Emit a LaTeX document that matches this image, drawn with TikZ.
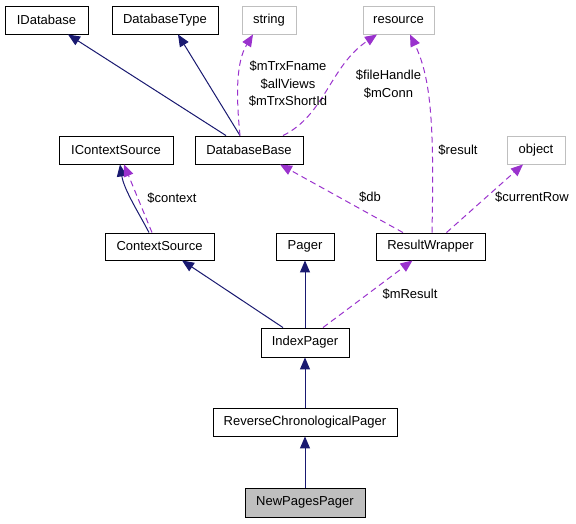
\documentclass[tikz,border=0pt]{standalone}
\usepackage{fontspec}
\setmainfont{Liberation Sans}
\usetikzlibrary{arrows.meta,calc}
\definecolor{navy}{HTML}{191970}
\definecolor{orchid}{HTML}{9A32CD}
\definecolor{lgray}{HTML}{BFBFBF}
\tikzset{
  cls/.style={draw=black, line width=0.9pt, rectangle, inner sep=0pt, minimum height=28pt, font=\fontsize{13}{15}\selectfont},
  ext/.style={cls, draw=lgray},
  inh/.style={draw=navy, line width=1pt, -{Triangle[length=12pt,width=10pt]}},
  use/.style={draw=orchid, line width=1pt, dash pattern=on 6pt off 4pt, -{Triangle[length=12pt,width=10pt]}},
  lbl/.style={font=\fontsize{13}{17.5}\selectfont, align=center, inner sep=0pt}
}
\begin{document}
\begin{tikzpicture}[x=1pt,y=-1pt]
\useasboundingbox (0,0) rectangle (576,523);
% nodes
\node[cls, minimum width=83pt] (IDatabase) at (46.5,20) {IDatabase};
\node[cls, minimum width=106pt] (DatabaseType) at (165,20) {DatabaseType};
\node[ext, minimum width=54pt] (string) at (269,20) {string};
\node[ext, minimum width=71pt] (resource) at (398.5,20) {resource};
\node[cls, minimum width=114pt] (IContextSource) at (116,150) {IContextSource};
\node[cls, minimum width=108pt] (DatabaseBase) at (249,150) {DatabaseBase};
\node[ext, minimum width=58pt] (object) at (536,150) {object};
\node[cls, minimum width=109pt, minimum height=27pt] (ContextSource) at (159.5,246.5) {ContextSource};
\node[cls, minimum width=58pt, minimum height=27pt] (Pager) at (305,246.5) {Pager};
\node[cls, minimum width=109pt, minimum height=27pt] (ResultWrapper) at (430.5,246.5) {ResultWrapper};
\node[cls, minimum width=88pt, minimum height=29pt] (IndexPager) at (305,342.5) {IndexPager};
\node[cls, minimum width=184pt] (RCP) at (305,422) {ReverseChronologicalPager};
\node[cls, fill=lgray, minimum width=120pt, minimum height=29pt] (NPP) at (305,502.5) {NewPagesPager};

% inheritance edges
\draw[inh] ([xshift=-23pt]DatabaseBase.north) -- ([xshift=21.5pt]IDatabase.south);
\draw[inh] ([xshift=-9pt]DatabaseBase.north) -- ([xshift=13pt]DatabaseType.south);
\draw[inh] ([xshift=-10.5pt]ContextSource.north) .. controls (140,215) and (124,190) .. ([xshift=4pt]IContextSource.south);
\draw[inh] ([xshift=-22pt]IndexPager.north) -- ([xshift=22.5pt]ContextSource.south);
\draw[inh] (IndexPager.north) -- (Pager.south);
\draw[inh] (RCP.north) -- (IndexPager.south);
\draw[inh] (NPP.north) -- (RCP.south);

% usage edges
\draw[use] ([xshift=-7.5pt]ContextSource.north) -- ([xshift=8pt]IContextSource.south);
\draw[use] ([xshift=-9pt]DatabaseBase.north) .. controls (236,95) and (236,62) .. ([xshift=-16pt]string.south);
\draw[use] ([xshift=34pt]DatabaseBase.north) .. controls (325,115) and (330,66) .. ([xshift=-21.5pt]resource.south);
\draw[use] ([xshift=1.5pt]ResultWrapper.north) .. controls (434,130) and (432,80) .. ([xshift=11.5pt]resource.south);
\draw[use] ([xshift=-27.5pt]ResultWrapper.north) -- ([xshift=31pt]DatabaseBase.south);
\draw[use] ([xshift=16pt]ResultWrapper.north) -- ([xshift=-13pt]object.south);
\draw[use] ([xshift=18pt]IndexPager.north) -- ([xshift=-18pt]ResultWrapper.south);

% labels
\node[lbl] (l1) at (288,84) {\$mTrxFname\\\$allViews\\\$mTrxShortId};
\node[lbl] (l2) at (388.5,84) {\$fileHandle\\\$mConn};
\node[lbl] (l3) at (458,150) {\$result};
\node[lbl] (l4) at (370,197) {\$db};
\node[lbl] (l5) at (532,197) {\$currentRow};
\node[lbl] (l6) at (410,294) {\$mResult};
\node[lbl] (l7) at (172,198) {\$context};
\end{tikzpicture}
\end{document}
